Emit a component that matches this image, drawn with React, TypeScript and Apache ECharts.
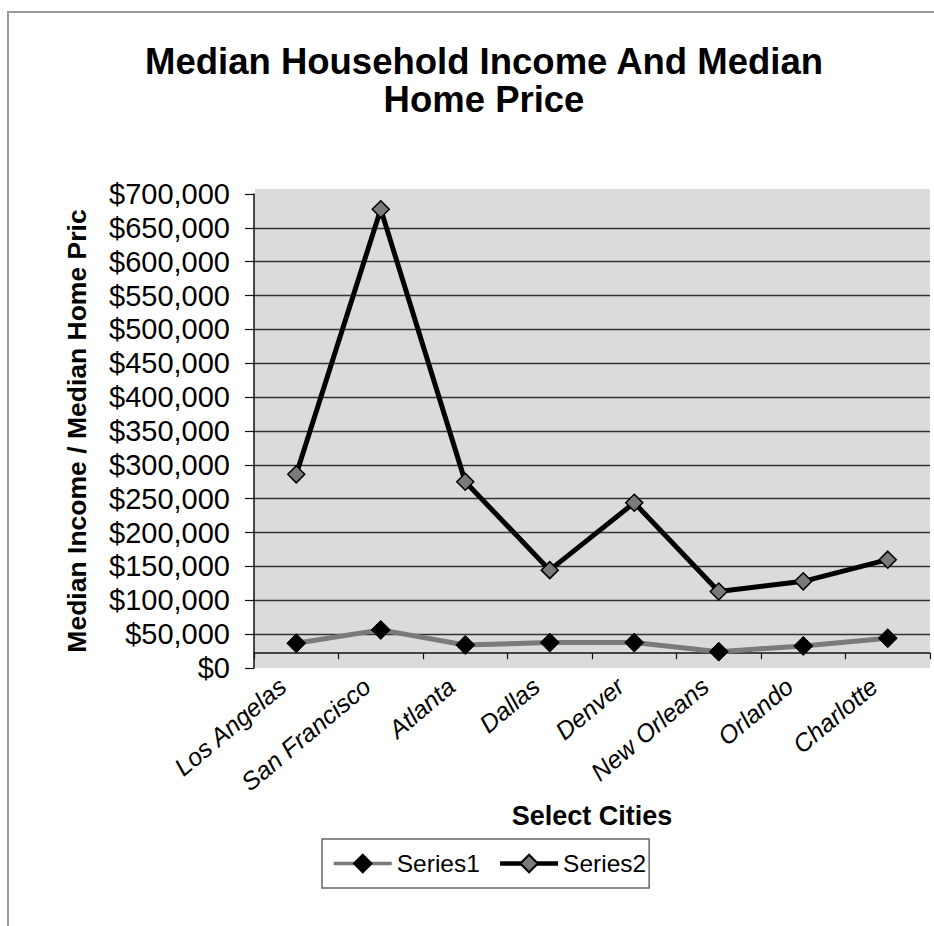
import React, { useEffect, useRef } from "react";
import * as echarts from "echarts";

const categories = ["Los Angelas", "San Francisco", "Atlanta", "Dallas", "Denver", "New Orleans", "Orlando", "Charlotte"];
const series1Values = [36600, 56300, 34000, 37500, 37500, 24100, 32600, 44000];
const series2Values = [286000, 677500, 275000, 144500, 244000, 113000, 128000, 160000];
const seriesNames = ["Series1", "Series2"];
const yMin = 0;
const yMax = 700000;
const yStep = 50000;
const categoryAxisCrossesAt = 21800;

const FONT = "'Liberation Sans', Arial, sans-serif";

export default function App() {
  const ref = useRef<HTMLDivElement>(null);
  useEffect(() => {
    if (!ref.current) return;
    const chart = echarts.init(ref.current, null, { renderer: "svg" });
    const option = {
      animation: false,
      backgroundColor: "#ffffff",
      title: {
        text: "Median Household Income And Median\nHome Price",
        left: 479,
        textAlign: "center",
        top: 37,
        textStyle: { fontFamily: FONT, fontSize: 36.5, fontWeight: "bold", color: "#000", lineHeight: 38 },
      },
      graphic: [
        {
          type: "rect",
          shape: { x: 8, y: 12, width: 1000, height: 1000 },
          style: { fill: "none", stroke: "#999", lineWidth: 2 },
          silent: true,
          z: -10,
        },
        {
          type: "rect",
          shape: { x: 255, y: 189, width: 675, height: 5 },
          style: { fill: "#dbdbdb" },
          silent: true,
          z: -5,
        },
      ],
      legend: {
        data: [
          { name: seriesNames[0], lineStyle: { width: 3.5, color: "#7a7a7a" } },
          { name: seriesNames[1], lineStyle: { width: 4.5, color: "#000" } },
        ],
        left: 322,
        top: 839,
        orient: "horizontal",
        itemWidth: 58,
        itemHeight: 22,
        itemGap: 18,
        padding: [12, 3, 12, 10],
        borderColor: "#666",
        borderWidth: 1.5,
        textStyle: { fontFamily: FONT, fontSize: 24.5, color: "#000" },
      },
      grid: {
        left: 254,
        right: 4,
        top: 194,
        bottom: 258,
        show: true,
        backgroundColor: "#dbdbdb",
        borderWidth: 0,
      },
      xAxis: {
        type: "category",
        data: categories,
        boundaryGap: true,
        name: "Select Cities",
        nameLocation: "middle",
        nameGap: 134,
        nameTextStyle: { fontFamily: FONT, fontSize: 27, fontWeight: "bold", color: "#000", verticalAlign: "top" },
        axisLine: { show: true, onZero: true, onZeroAxisIndex: 1, lineStyle: { color: "#111", width: 1.5 } },
        axisTick: { show: true, alignWithLabel: false, length: 6, lineStyle: { color: "#111", width: 1.2 } },
        axisLabel: {
          interval: 0,
          rotate: 40,
          margin: 3,
          padding: [0, 18, 0, 0],
          fontFamily: FONT,
          fontSize: 25,
          fontStyle: "italic",
          color: "#000",
        },
        splitLine: { show: false },
      },
      yAxis: [
        {
          type: "value",
          min: yMin,
          max: yMax,
          interval: yStep,
          name: "Median Income / Median Home Price",
          nameLocation: "middle",
          nameGap: 164,
          nameTruncate: { maxWidth: 446, ellipsis: "" },
          nameTextStyle: {
            fontFamily: FONT,
            fontSize: 26.5,
            fontWeight: "bold",
            color: "#000",
          },
          axisLine: { show: true, lineStyle: { color: "#111", width: 1.5 } },
          axisTick: { show: true, inside: false, length: 9, lineStyle: { color: "#111", width: 1.2 } },
          axisLabel: {
            margin: 24,
            fontFamily: FONT,
            fontSize: 29,
            color: "#000",
            formatter: (v: number) => "$" + v.toLocaleString("en-US"),
          },
          splitLine: { show: true, showMinLine: false, showMaxLine: false, lineStyle: { color: "#333", width: 1.4 } },
        },
        {
          type: "value",
          show: false,
          min: yMin - categoryAxisCrossesAt,
          max: yMax - categoryAxisCrossesAt,
          splitLine: { show: false },
        },
      ],
      series: [
        {
          name: seriesNames[0],
          type: "line",
          yAxisIndex: 0,
          data: series1Values,
          symbol: "diamond",
          symbolSize: 19,
          lineStyle: { color: "#7a7a7a", width: 5 },
          itemStyle: { color: "#000", borderColor: "#000", borderWidth: 1 },
          z: 3,
        },
        {
          name: seriesNames[1],
          type: "line",
          yAxisIndex: 0,
          data: series2Values,
          symbol: "diamond",
          symbolSize: 17,
          lineStyle: { color: "#000", width: 5 },
          itemStyle: { color: "#7a7a7a", borderColor: "#000", borderWidth: 1.5 },
          z: 4,
        },
      ],
    };
    chart.setOption(option as any);
    return () => chart.dispose();
  }, []);
  return (
    <div
      ref={ref}
      style={{ position: "fixed", left: 0, top: 0, width: 934, height: 926 }}
    />
  );
}
